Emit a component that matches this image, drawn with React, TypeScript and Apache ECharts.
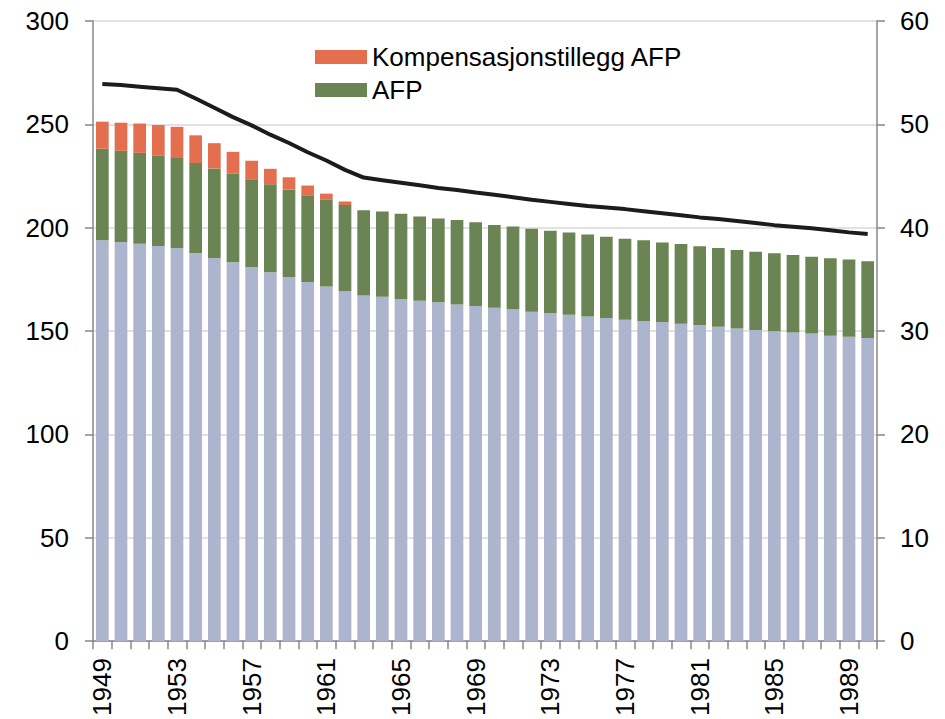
import React, { useEffect, useRef } from "react";
import * as echarts from "echarts";

const years: string[] = [];
for (let y = 1949; y <= 1990; y++) years.push(String(y));

const baseValues = [
  193.9, 193.1, 192.3, 191.1, 190.2, 187.8, 185.4, 183.3, 180.9, 178.5,
  176.2, 173.7, 171.6, 169.3, 167.2, 166.6, 165.5, 164.7, 163.9, 162.9,
  162.1, 161.3, 160.5, 159.4, 158.7, 157.9, 157.1, 156.3, 155.5, 154.9,
  154.4, 153.6, 152.8, 152.1, 151.3, 150.5, 149.9, 149.3, 148.8, 147.8,
  147.3, 146.7,
];

const afpValues = [
  44.3, 44.1, 43.9, 43.8, 43.5, 43.5, 43.3, 42.8, 42.5, 42.5,
  42.2, 42.0, 41.9, 41.7, 41.3, 41.2, 41.2, 40.7, 40.6, 40.8,
  40.6, 40.0, 40.1, 40.1, 39.8, 39.8, 39.6, 39.3, 39.2, 39.0,
  38.5, 38.5, 38.2, 38.1, 37.9, 37.9, 37.7, 37.5, 37.2, 37.4,
  37.3, 37.1,
];

const kompValues = [
  13.1, 13.6, 14.2, 14.8, 15.1, 13.4, 12.2, 10.6, 9.0, 7.5,
  6.0, 4.7, 3.0, 1.7, 0, 0, 0, 0, 0, 0,
  0, 0, 0, 0, 0, 0, 0, 0, 0, 0,
  0, 0, 0, 0, 0, 0, 0, 0, 0, 0,
  0, 0,
];

const lineValues = [
  53.9, 53.8, 53.65, 53.5, 53.35, 52.5, 51.6, 50.7, 49.9, 49.0,
  48.2, 47.3, 46.5, 45.6, 44.85, 44.6, 44.35, 44.1, 43.85, 43.65,
  43.4, 43.2, 42.95, 42.7, 42.5, 42.3, 42.1, 41.95, 41.8, 41.6,
  41.4, 41.2, 41.0, 40.85, 40.65, 40.45, 40.25, 40.1, 39.95, 39.75,
  39.55, 39.4,
];

const SERIES_KOMP = "Kompensasjonstillegg AFP";
const SERIES_AFP = "AFP";

const FONT = "'Liberation Sans', Arial, sans-serif";
const AXIS_COLOR = "#878787";
const FS = 26;

export default function App() {
  const ref = useRef<HTMLDivElement>(null);

  useEffect(() => {
    if (!ref.current) return;
    const chart = echarts.init(ref.current, null, { renderer: "svg" });
    chart.setOption({
      animation: false,
      textStyle: { fontFamily: FONT },
      grid: { left: 93, right: 68, top: 21, bottom: 76, containLabel: false },
      legend: {
        data: [SERIES_KOMP, SERIES_AFP],
        orient: "vertical",
        left: 315,
        top: 44,
        padding: 0,
        itemWidth: 52,
        itemHeight: 14,
        itemGap: 7,
        icon: "rect",
        textStyle: { fontSize: FS, color: "#000", fontFamily: FONT, lineHeight: 26, padding: [0, 0, 0, 0] },
      },
      xAxis: {
        type: "category",
        data: years,
        boundaryGap: true,
        axisLine: { lineStyle: { color: AXIS_COLOR, width: 1.5 } },
        axisTick: { show: true, interval: 0, length: 8, lineStyle: { color: AXIS_COLOR, width: 1.5 } },
        axisLabel: { interval: 3, rotate: 90, margin: 17, fontSize: FS, color: "#000", fontFamily: FONT },
      },
      yAxis: [
        {
          type: "value",
          min: 0,
          max: 300,
          interval: 50,
          axisLine: { show: true, lineStyle: { color: AXIS_COLOR, width: 1.5 } },
          axisTick: { show: true, length: 8, lineStyle: { color: AXIS_COLOR, width: 1.5 } },
          axisLabel: { margin: 24, fontSize: FS, color: "#000", fontFamily: FONT },
          splitLine: { show: true, lineStyle: { color: "#d9d9d9", width: 1.5 } },
        },
        {
          type: "value",
          min: 0,
          max: 60,
          interval: 10,
          position: "right",
          axisLine: { show: true, lineStyle: { color: AXIS_COLOR, width: 1.5 } },
          axisTick: { show: true, length: 8, lineStyle: { color: AXIS_COLOR, width: 1.5 } },
          axisLabel: { margin: 23, fontSize: FS, color: "#000", fontFamily: FONT },
          splitLine: { show: false },
        },
      ],
      series: [
        {
          name: "Base",
          type: "bar",
          stack: "total",
          data: baseValues,
          barCategoryGap: "32%",
          itemStyle: { color: "#adb4cd" },
        },
        {
          name: SERIES_AFP,
          type: "bar",
          stack: "total",
          data: afpValues,
          barCategoryGap: "32%",
          itemStyle: { color: "#6b8453" },
        },
        {
          name: SERIES_KOMP,
          type: "bar",
          stack: "total",
          data: kompValues,
          barCategoryGap: "32%",
          itemStyle: { color: "#e46f4f" },
        },
        {
          name: "Linje",
          type: "line",
          yAxisIndex: 1,
          data: lineValues,
          showSymbol: false,
          symbol: "none",
          lineStyle: { color: "#1c1c1c", width: 4 },
          z: 5,
        },
      ],
    });
    return () => chart.dispose();
  }, []);

  return <div ref={ref} style={{ width: 945, height: 719, position: "absolute", left: 0, top: 0 }} />;
}
